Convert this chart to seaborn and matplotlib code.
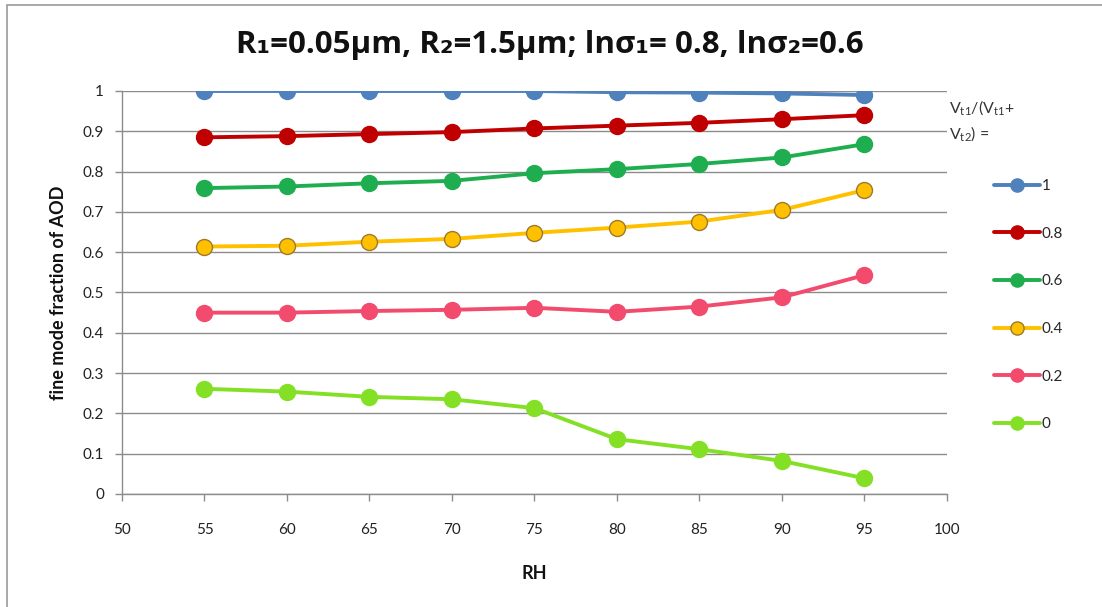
import matplotlib
matplotlib.use("Agg")
import matplotlib.pyplot as plt
import seaborn as sns
import pandas as pd
from matplotlib.patches import Rectangle
from matplotlib.lines import Line2D

# Relative humidity (%) and fine-mode fraction of AOD for each volume ratio
rh = [55, 60, 65, 70, 75, 80, 85, 90, 95]
fmf_1 = [1.000, 1.000, 1.000, 1.000, 1.000, 0.997, 0.996, 0.994, 0.990]
fmf_08 = [0.885, 0.888, 0.893, 0.898, 0.907, 0.914, 0.921, 0.930, 0.940]
fmf_06 = [0.759, 0.763, 0.771, 0.777, 0.796, 0.806, 0.819, 0.835, 0.868]
fmf_04 = [0.614, 0.616, 0.626, 0.633, 0.648, 0.661, 0.676, 0.705, 0.754]
fmf_02 = [0.450, 0.450, 0.454, 0.457, 0.462, 0.452, 0.465, 0.488, 0.543]
fmf_0 = [0.261, 0.254, 0.241, 0.235, 0.213, 0.136, 0.111, 0.082, 0.039]

ratio_labels = ["1", "0.8", "0.6", "0.4", "0.2", "0"]
series = [fmf_1, fmf_08, fmf_06, fmf_04, fmf_02, fmf_0]
colors = ["#4F81BD", "#C00000", "#1FAE4F", "#FFC000", "#F24B6E", "#84E024"]
edges = ["#4F81BD", "#C00000", "#1FAE4F", "#9C7A2A", "#F24B6E", "#84E024"]

x_ticks = [50, 55, 60, 65, 70, 75, 80, 85, 90, 95, 100]
y_ticks = [0, 0.1, 0.2, 0.3, 0.4, 0.5, 0.6, 0.7, 0.8, 0.9, 1]
y_tick_labels = ["0", "0.1", "0.2", "0.3", "0.4", "0.5", "0.6", "0.7", "0.8", "0.9", "1"]

df = pd.concat(
    [pd.DataFrame({"RH": rh, "FMF": vals, "ratio": lab})
     for lab, vals in zip(ratio_labels, series)],
    ignore_index=True,
)

sns.set_theme(style="white")
plt.rcParams["font.family"] = ["Lato", "DejaVu Sans"]

fig = plt.figure(figsize=(11.02, 6.07), dpi=100)
ax = fig.add_axes([0.1107, 0.1862, 0.7486, 0.6639])

palette = dict(zip(ratio_labels, colors))
sns.lineplot(data=df, x="RH", y="FMF", hue="ratio", hue_order=ratio_labels,
             palette=palette, marker="o", markersize=11.5, linewidth=2.8,
             ax=ax, legend=False, zorder=3)

for line, ec in zip(ax.get_lines(), edges):
    line.set_markeredgecolor(ec)
    line.set_markeredgewidth(1.0)

ax.set_xlim(50, 100)
ax.set_ylim(0, 1)
ax.set_xticks(x_ticks)
ax.set_xticklabels([str(t) for t in x_ticks])
ax.set_yticks(y_ticks)
ax.set_yticklabels(y_tick_labels)

ax.grid(axis="y", color="#8C8C8C", linewidth=1.0)
ax.grid(axis="x", visible=False)
ax.set_axisbelow(True)
for side in ["top", "right"]:
    ax.spines[side].set_visible(False)
for side in ["left", "bottom"]:
    ax.spines[side].set_color("#8C8C8C")
    ax.spines[side].set_linewidth(1.0)

ax.tick_params(axis="both", which="major", direction="out", length=5,
               width=1.0, color="#8C8C8C", labelsize=11, labelcolor="#222222",
               left=True, bottom=True)
ax.tick_params(axis="x", pad=16)
ax.tick_params(axis="y", pad=8)

ax.set_xlabel("RH", fontsize=13, fontweight="bold", labelpad=20, color="#111111")
ax.set_ylabel("fine mode fraction of AOD", fontsize=13, fontweight="bold",
              labelpad=11, color="#111111")

fig.text(0.499, 0.926, "R₁=0.05μm, R₂=1.5μm; lnσ₁= 0.8, lnσ₂=0.6",
         ha="center", va="center", fontsize=22.5, fontweight="bold",
         color="#111111", family=["Open Sans", "DejaVu Sans"])

# legend title and entries
fig.text(0.861, 0.822, "V$_{\\mathregular{t1}}$/(V$_{\\mathregular{t1}}$+",
         ha="left", va="center", fontsize=11.5, color="#333333")
fig.text(0.861, 0.778, "V$_{\\mathregular{t2}}$) =",
         ha="left", va="center", fontsize=11.5, color="#333333")

handles = [Line2D([], [], color=c, marker="o", markersize=9.5, linewidth=2.8,
                  markeredgecolor=e, markeredgewidth=1.0)
           for c, e in zip(colors, edges)]
fig.legend(handles, ratio_labels, loc="upper left",
           bbox_to_anchor=(0.902, 0.705), frameon=False, fontsize=11,
           handlelength=3.0, handletextpad=0.1, labelspacing=2.2,
           borderaxespad=0, borderpad=0)

# chart-area frame
fig.patches.append(Rectangle((0.0065, -0.05), 1.1, 1.042, transform=fig.transFigure,
                             fill=False, edgecolor="#9A9A9A", linewidth=1.2))

fig.savefig("out.png", dpi=100, facecolor="white")
